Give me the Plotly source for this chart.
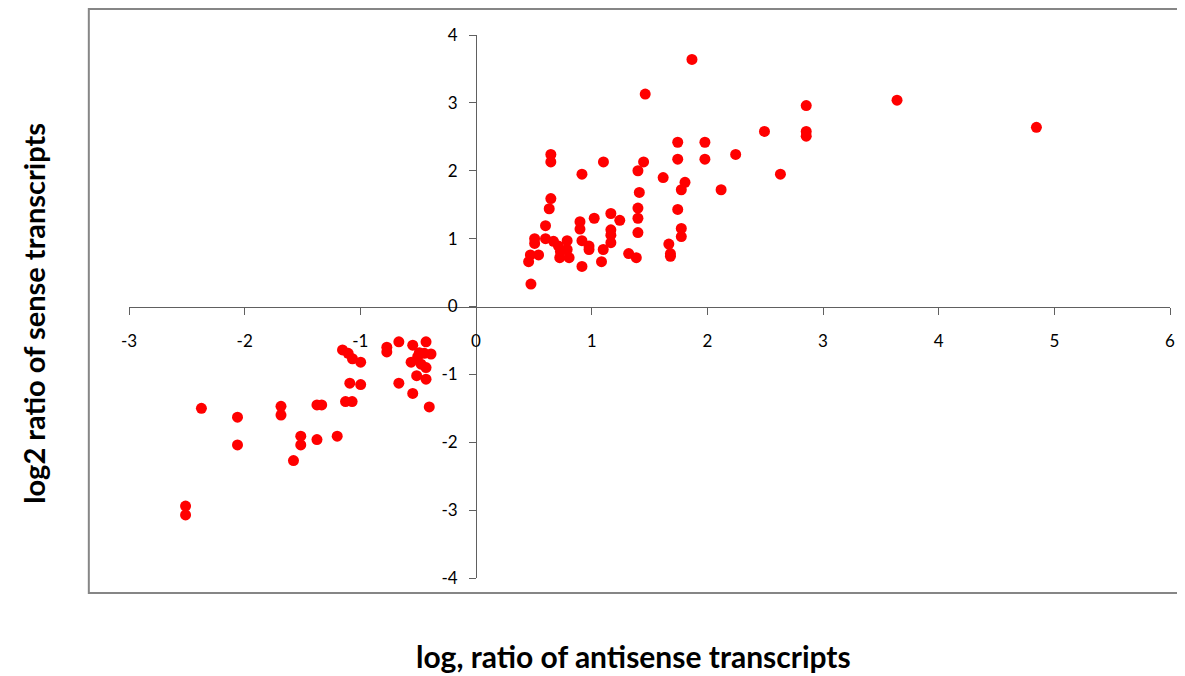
import plotly.graph_objects as go

# Positive quadrant (antisense log ratio, sense log2 ratio)
pos_x = [1.867, 1.463, 2.855, 3.64, 4.845, 2.494, 2.855, 2.855, 1.744, 1.979,
         0.647, 0.647, 1.102, 1.449, 1.744, 1.979, 2.245, 0.916, 1.400, 2.632,
         1.618, 1.807, 1.775, 2.119, 1.412, 0.647, 0.633, 1.40, 1.744, 1.166,
         1.022, 1.243, 1.40, 0.899, 0.601, 0.899, 1.166, 1.775, 1.40, 1.166,
         1.775, 0.507, 0.507, 0.601, 0.670, 0.788, 0.916, 0.977, 0.977, 1.166,
         0.713, 0.788, 0.730, 1.100, 1.667, 1.681, 1.681, 1.320, 1.386, 0.47,
         0.541, 0.455, 0.724, 0.805, 1.085, 0.916, 0.475]
pos_y = [3.64, 3.13, 2.96, 3.04, 2.64, 2.58, 2.58, 2.51, 2.42, 2.42,
         2.24, 2.13, 2.13, 2.13, 2.17, 2.17, 2.24, 1.95, 2.00, 1.95,
         1.90, 1.83, 1.72, 1.72, 1.68, 1.59, 1.44, 1.45, 1.43, 1.37,
         1.30, 1.27, 1.30, 1.25, 1.19, 1.14, 1.13, 1.15, 1.09, 1.05,
         1.03, 1.00, 0.93, 1.00, 0.96, 0.97, 0.97, 0.89, 0.84, 0.94,
         0.89, 0.84, 0.81, 0.84, 0.92, 0.78, 0.74, 0.78, 0.72, 0.76,
         0.76, 0.66, 0.72, 0.72, 0.66, 0.59, 0.33]

# Negative quadrant
neg_x = [-0.667, -0.432, -0.547, -0.771, -0.771, -1.154, -1.105, -1.068, -0.997, -0.490,
         -0.447, -0.389, -0.504, -0.561, -0.475, -0.432, -0.513, -0.432, -0.667, -1.091,
         -0.997, -0.547, -1.128, -1.071, -0.404, -1.375, -1.334, -1.686, -1.686, -2.374,
         -2.062, -2.062, -1.515, -1.515, -1.375, -1.200, -1.578, -2.511, -2.511]
neg_y = [-0.52, -0.52, -0.57, -0.60, -0.67, -0.64, -0.69, -0.77, -0.82, -0.68,
         -0.69, -0.70, -0.74, -0.82, -0.85, -0.90, -1.02, -1.07, -1.13, -1.13,
         -1.15, -1.28, -1.40, -1.40, -1.48, -1.45, -1.45, -1.47, -1.60, -1.50,
         -1.63, -2.04, -1.91, -2.04, -1.96, -1.91, -2.27, -2.94, -3.07]

x_vals = pos_x + neg_x
y_vals = pos_y + neg_y

x_ticks = [-3, -2, -1, 0, 1, 2, 3, 4, 5, 6]
y_ticks = [-4, -3, -2, -1, 0, 1, 2, 3, 4]
x_title = "log, ratio of antisense transcripts"
y_title = "log2 ratio of sense transcripts"

FONT = "Lato"
PW = 1046.6   # plot-area width in px
PH = 543.3    # plot-area height in px

fig = go.Figure()
fig.add_trace(go.Scatter(
    x=x_vals, y=y_vals, mode="markers",
    marker=dict(color="#FF0000", size=11, line=dict(width=0)),
    showlegend=False, hoverinfo="x+y",
))

axis_common = dict(
    showgrid=False, zeroline=False, showline=True, linecolor="#606060", linewidth=1,
    ticks="outside", tickcolor="#606060", tickwidth=1, ticklen=7,
    tickfont=dict(family=FONT, size=17, color="#000000"),
    anchor="free", fixedrange=True,
)

fig.update_layout(
    width=1177, height=668,
    margin=dict(l=121, r=10, t=27, b=98),
    paper_bgcolor="white", plot_bgcolor="white",
    xaxis=dict(range=[-3, 6], tickvals=x_ticks, ticktext=[str(v) for v in x_ticks],
               position=0.5, ticklabelstandoff=12, **axis_common),
    yaxis=dict(range=[-4, 4], tickvals=y_ticks, ticktext=[str(v) for v in y_ticks],
               position=1/3, ticklabelstandoff=8, **axis_common),
    shapes=[dict(type="rect", xref="paper", yref="paper",
                 x0=-0.0386, x1=1.03, y0=-0.0276, y1=1 + 26 / PH,
                 line=dict(color="#868686", width=2), fillcolor="rgba(0,0,0,0)", layer="below")],
    annotations=[
        dict(text="<b>" + x_title + "</b>", xref="paper", yref="paper",
             x=(636 - 128.7) / PW, y=(578.3 - 656) / PH, showarrow=False,
             font=dict(family=FONT, size=30, color="#000000"), xanchor="center", yanchor="middle"),
        dict(text="<b>" + y_title + "</b>", xref="paper", yref="paper",
             x=(33 - 128.7) / PW, y=(578.3 - 313) / PH, showarrow=False, textangle=-90,
             font=dict(family=FONT, size=29, color="#000000"), xanchor="center", yanchor="middle"),
    ],
)

fig.write_html("out.html")
